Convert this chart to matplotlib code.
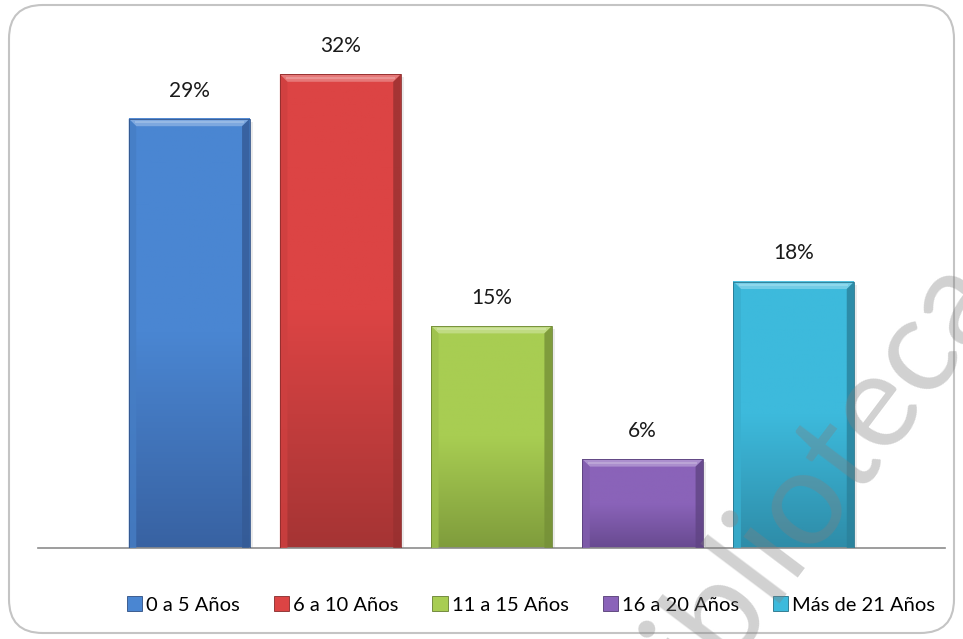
import matplotlib.pyplot as plt
import numpy as np
from matplotlib.patches import FancyBboxPatch, Polygon, Rectangle
from matplotlib.colors import LinearSegmentedColormap, to_rgb

labels = ['0 a 5 Años', '6 a 10 Años', '11 a 15 Años', '16 a 20 Años', 'Más de 21 Años']
values = [29, 32, 15, 6, 18]
top_colors = ['#4a86d2', '#dc4444', '#a8cd52', '#8a63b9', '#3dbadc']
bottom_colors = ['#3862a2', '#a53434', '#7f9c3c', '#684a90', '#2e8ca8']

plt.rcParams['font.family'] = ['Lato', 'DejaVu Sans']

W, H = 963, 639
fig = plt.figure(figsize=(W / 100, H / 100), dpi=100)


def mix(c, other, t):
    c = np.array(to_rgb(c))
    o = np.array(to_rgb(other))
    return tuple(c * (1 - t) + o * t)


# rounded outer frame
frame = FancyBboxPatch((9 / W, 6 / H), 945 / W, 628 / H,
                       boxstyle='round,pad=0,rounding_size=0.035',
                       transform=fig.transFigure, facecolor='white',
                       edgecolor='#c4c4c4', linewidth=1.5, zorder=-1,
                       mutation_aspect=W / H)
fig.patches.append(frame)

ax = fig.add_axes([38 / W, (H - 548) / H, (945 - 38) / W, (548 - 30) / H])
ax.set_facecolor('none')
for s in ['top', 'left', 'right']:
    ax.spines[s].set_visible(False)
ax.spines['bottom'].set_color('#8c8c8c')
ax.spines['bottom'].set_linewidth(1.2)
ax.set_xticks([])
ax.set_yticks([])

width = 0.8
dx = 0.05
dy = 0.5
xs = np.arange(len(values))

for x, v, ct, cb in zip(xs, values, top_colors, bottom_colors):
    x0, x1 = x - width / 2, x + width / 2
    # soft shadow to the right
    ax.add_patch(Rectangle((x0 + 0.02, 0), width, v - 0.2, facecolor='#000000',
                           alpha=0.08, edgecolor='none', zorder=1))
    cmap = LinearSegmentedColormap.from_list('g', [cb, ct, ct])
    grad = np.linspace(0, 1, 256)[:, None]
    ax.imshow(grad, extent=[x0, x1, 0, v], origin='lower', cmap=cmap,
              aspect='auto', zorder=2)
    # bevel faces
    top = Polygon([(x0, v), (x1, v), (x1 - dx, v - dy), (x0 + dx, v - dy)],
                  closed=True, facecolor=mix(ct, 'white', 0.28), edgecolor='none', zorder=3)
    ax.add_patch(top)
    ax.plot([x0 + dx * 0.8, x1 - dx * 0.8], [v - dy * 0.45, v - dy * 0.45],
            color=mix(ct, 'white', 0.42), lw=1.5, zorder=4, solid_capstyle='butt')
    left = Polygon([(x0, v), (x0 + dx, v - dy), (x0 + dx, 0), (x0, 0)],
                   closed=True, facecolor=mix(ct, 'black', 0.06), edgecolor='none',
                   alpha=0.8, zorder=3)
    right = Polygon([(x1, v), (x1 - dx, v - dy), (x1 - dx, 0), (x1, 0)],
                    closed=True, facecolor=mix(cb, 'black', 0.08), edgecolor='none',
                    alpha=0.8, zorder=3)
    ax.add_patch(left)
    ax.add_patch(right)
    ax.add_patch(Rectangle((x0, 0), width, v, facecolor='none',
                           edgecolor=mix(cb, 'black', 0.15), lw=0.6, zorder=5))
    ax.text(x, v + 1.9, f'{v}%', ha='center', va='center', fontsize=15,
            color='#1a1a1a')

ax.set_xlim(-1.0, 5.0)
ax.set_ylim(0, 35)

handles = [Rectangle((0, 0), 1, 1, facecolor=c, edgecolor=mix(b, 'black', 0.2), lw=0.6)
           for c, b in zip(top_colors, bottom_colors)]
fig.legend(handles, labels, loc='center', bbox_to_anchor=(531 / W, 1 - 605 / H),
           ncol=5, frameon=False, fontsize=14.5, handlelength=0.75, handleheight=0.75,
           handletextpad=0.2, columnspacing=1.7, borderaxespad=0)

# watermark
fig.text(798 / W, 1 - 500 / H, 'Biblioteca', rotation=53, fontsize=96,
         color='#808080', alpha=0.36, ha='center', va='center', zorder=10)

fig.savefig('out.png', dpi=100)
